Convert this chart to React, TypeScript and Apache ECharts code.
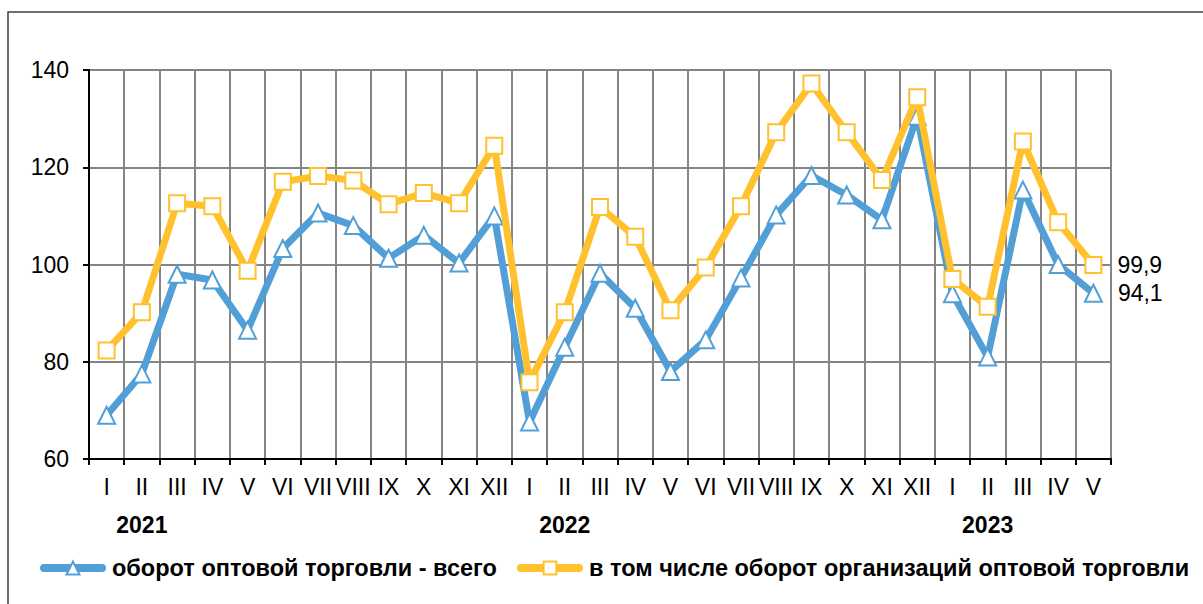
import React, { useEffect, useRef } from "react";
import * as echarts from "echarts";

const months = ["I","II","III","IV","V","VI","VII","VIII","IX","X","XI","XII","I","II","III","IV","V","VI","VII","VIII","IX","X","XI","XII","I","II","III","IV","V"];
const yearLabels = ["","2021","","","","","","","","","","","","2022","","","","","","","","","","","","2023","","",""];
const totalTrade = [69, 77.5, 98, 96.8, 86.5, 103.3, 110.6, 108, 101.3, 106, 100.3, 110, 67.6, 83, 98.2, 91, 78, 84.5, 97.2, 110.2, 118.3, 114.3, 109.2, 130.5, 94, 81, 115.3, 100, 94.1];
const orgTrade = [82.3, 90.2, 112.6, 112, 98.7, 117, 118.2, 117.3, 112.4, 114.7, 112.6, 124.4, 75.8, 90.2, 111.8, 105.7, 90.6, 99.4, 112, 127.2, 137.2, 127.2, 117.4, 134.4, 97, 91.3, 125.3, 108.7, 99.9];
const seriesNames = ["оборот оптовой торговли - всего", "в том числе оборот организаций оптовой торговли"];
const lastLabels = ["94,1", "99,9"];

const FONT = "'Liberation Sans', Arial, sans-serif";
const BLUE = "#529FD7";
const ORANGE = "#FFC12E";

export default function App() {
  const ref = useRef<HTMLDivElement>(null);
  useEffect(() => {
    const chart = echarts.init(ref.current!, null, { renderer: "svg" });
    const lastIdx = months.length - 1;
    const mk = (name: string, data: number[], color: string, symbol: string, size: number, label: string, z: number) => ({
      name,
      type: "line",
      data: data.map((v, i) =>
        i === lastIdx
          ? {
              value: v,
              label: {
                show: true,
                position: "right",
                distance: 15,
                formatter: label,
                fontFamily: FONT,
                fontSize: 23,
                color: "#000",
              },
            }
          : v
      ),
      symbol,
      symbolSize: size,
      showAllSymbol: true,
      z,
      lineStyle: { color, width: 7 },
      itemStyle: { color: "#fff", borderColor: color, borderWidth: 2 },
      emphasis: { disabled: true },
    });
    const legendBase = {
      top: 556,
      padding: 0,
      itemWidth: 58,
      itemHeight: 16,
      width: 900,
      lineStyle: { width: 8, cap: "round" },
      textStyle: { fontFamily: FONT, fontSize: 23.5, fontWeight: "bold", color: "#000", padding: [0, 0, 0, 5] },
    };
    chart.setOption({
      animation: false,
      grid: { left: 89, right: 92, top: 70, bottom: 145, containLabel: false },
      graphic: [
        {
          type: "rect",
          shape: { x: 8, y: 12, width: 1400, height: 800 },
          style: { fill: "none", stroke: "#404040", lineWidth: 1.5 },
          silent: true,
          z: -10,
        },
      ],
      legend: [
        { ...legendBase, left: 40, data: [seriesNames[0]] },
        { ...legendBase, left: 517, data: [seriesNames[1]] },
      ],
      xAxis: [
        {
          type: "category",
          data: months,
          boundaryGap: true,
          axisLine: { lineStyle: { color: "#000", width: 2 } },
          axisTick: { show: true, interval: 0, length: 6, lineStyle: { color: "#000", width: 2 } },
          splitLine: { show: true, interval: 0, lineStyle: { color: "#858585", width: 2 } },
          axisLabel: { interval: 0, margin: 16, fontFamily: FONT, fontSize: 23, color: "#000" },
        },
        {
          type: "category",
          data: yearLabels,
          position: "bottom",
          boundaryGap: true,
          axisLine: { show: false },
          axisTick: { show: false },
          splitLine: { show: false },
          axisLabel: { interval: 0, margin: 54, fontFamily: FONT, fontSize: 23, fontWeight: "bold", color: "#000" },
        },
      ],
      yAxis: {
        type: "value",
        min: 60,
        max: 140,
        interval: 20,
        axisLine: { show: true, lineStyle: { color: "#000", width: 2 } },
        axisTick: { show: true, length: 6, lineStyle: { color: "#000", width: 2 } },
        splitLine: { show: true, lineStyle: { color: "#858585", width: 2 } },
        axisLabel: { margin: 20, fontFamily: FONT, fontSize: 23, color: "#000" },
      },
      series: [
        mk(seriesNames[0], totalTrade, BLUE, "triangle", 17, lastLabels[0], 2),
        mk(seriesNames[1], orgTrade, ORANGE, "rect", 16, lastLabels[1], 3),
      ],
    });
    return () => chart.dispose();
  }, []);
  return (
    <div
      ref={ref}
      style={{ position: "fixed", left: 0, top: 0, width: 1203, height: 604, background: "#fff" }}
    />
  );
}
